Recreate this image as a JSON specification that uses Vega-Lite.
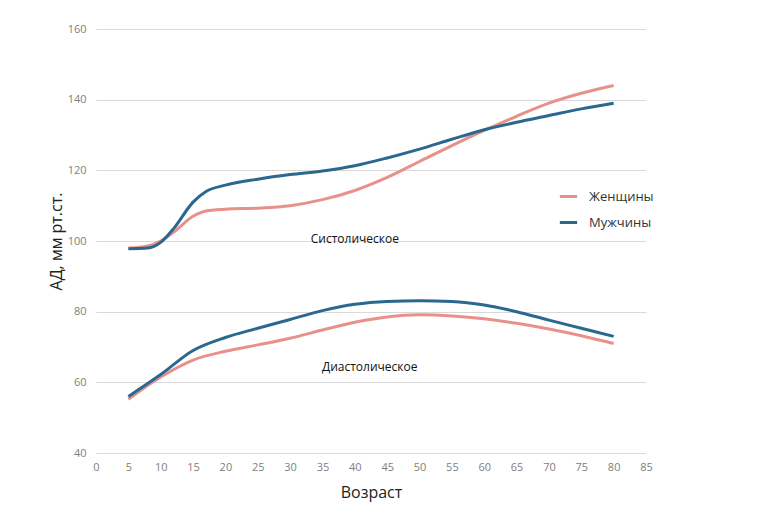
{
  "$schema": "https://vega.github.io/schema/vega-lite/v6.json",
  "width": 550,
  "height": 424,
  "autosize": "none",
  "padding": {"left": 96, "top": 29, "right": 128, "bottom": 74},
  "background": "white",
  "config": {
    "font": "Open Sans",
    "view": {"stroke": null},
    "axis": {"labelColor": "#808080", "labelFontSize": 11, "domain": false, "ticks": false, "titleFontWeight": "normal", "titleColor": "#222", "titleFontSize": 16}
  },
  "datasets": {
    "bp": [
      {"age": 5, "bp": 98, "sex": "Женщины", "type": "sys"},
      {"age": 8, "bp": 98.6, "sex": "Женщины", "type": "sys"},
      {"age": 10, "bp": 100, "sex": "Женщины", "type": "sys"},
      {"age": 12, "bp": 102.5, "sex": "Женщины", "type": "sys"},
      {"age": 15, "bp": 107, "sex": "Женщины", "type": "sys"},
      {"age": 17, "bp": 108.5, "sex": "Женщины", "type": "sys"},
      {"age": 20, "bp": 109, "sex": "Женщины", "type": "sys"},
      {"age": 25, "bp": 109.3, "sex": "Женщины", "type": "sys"},
      {"age": 30, "bp": 110, "sex": "Женщины", "type": "sys"},
      {"age": 35, "bp": 111.7, "sex": "Женщины", "type": "sys"},
      {"age": 40, "bp": 114.3, "sex": "Женщины", "type": "sys"},
      {"age": 45, "bp": 118, "sex": "Женщины", "type": "sys"},
      {"age": 50, "bp": 122.5, "sex": "Женщины", "type": "sys"},
      {"age": 55, "bp": 127, "sex": "Женщины", "type": "sys"},
      {"age": 60, "bp": 131.3, "sex": "Женщины", "type": "sys"},
      {"age": 65, "bp": 135.3, "sex": "Женщины", "type": "sys"},
      {"age": 70, "bp": 139, "sex": "Женщины", "type": "sys"},
      {"age": 75, "bp": 141.8, "sex": "Женщины", "type": "sys"},
      {"age": 80, "bp": 144, "sex": "Женщины", "type": "sys"},
      {"age": 5, "bp": 97.8, "sex": "Мужчины", "type": "sys"},
      {"age": 8, "bp": 98, "sex": "Мужчины", "type": "sys"},
      {"age": 10, "bp": 99.6, "sex": "Мужчины", "type": "sys"},
      {"age": 12, "bp": 103.5, "sex": "Мужчины", "type": "sys"},
      {"age": 15, "bp": 111, "sex": "Мужчины", "type": "sys"},
      {"age": 17, "bp": 114, "sex": "Мужчины", "type": "sys"},
      {"age": 20, "bp": 115.8, "sex": "Мужчины", "type": "sys"},
      {"age": 25, "bp": 117.5, "sex": "Мужчины", "type": "sys"},
      {"age": 30, "bp": 118.8, "sex": "Мужчины", "type": "sys"},
      {"age": 35, "bp": 119.8, "sex": "Мужчины", "type": "sys"},
      {"age": 40, "bp": 121.3, "sex": "Мужчины", "type": "sys"},
      {"age": 45, "bp": 123.5, "sex": "Мужчины", "type": "sys"},
      {"age": 50, "bp": 126, "sex": "Мужчины", "type": "sys"},
      {"age": 55, "bp": 128.8, "sex": "Мужчины", "type": "sys"},
      {"age": 60, "bp": 131.5, "sex": "Мужчины", "type": "sys"},
      {"age": 65, "bp": 133.6, "sex": "Мужчины", "type": "sys"},
      {"age": 70, "bp": 135.5, "sex": "Мужчины", "type": "sys"},
      {"age": 75, "bp": 137.4, "sex": "Мужчины", "type": "sys"},
      {"age": 80, "bp": 139, "sex": "Мужчины", "type": "sys"},
      {"age": 5, "bp": 55.2, "sex": "Женщины", "type": "dia"},
      {"age": 10, "bp": 61.5, "sex": "Женщины", "type": "dia"},
      {"age": 15, "bp": 66.3, "sex": "Женщины", "type": "dia"},
      {"age": 20, "bp": 68.8, "sex": "Женщины", "type": "dia"},
      {"age": 25, "bp": 70.6, "sex": "Женщины", "type": "dia"},
      {"age": 30, "bp": 72.5, "sex": "Женщины", "type": "dia"},
      {"age": 35, "bp": 74.8, "sex": "Женщины", "type": "dia"},
      {"age": 40, "bp": 77, "sex": "Женщины", "type": "dia"},
      {"age": 45, "bp": 78.5, "sex": "Женщины", "type": "dia"},
      {"age": 50, "bp": 79.1, "sex": "Женщины", "type": "dia"},
      {"age": 55, "bp": 78.8, "sex": "Женщины", "type": "dia"},
      {"age": 60, "bp": 78, "sex": "Женщины", "type": "dia"},
      {"age": 65, "bp": 76.7, "sex": "Женщины", "type": "dia"},
      {"age": 70, "bp": 75.1, "sex": "Женщины", "type": "dia"},
      {"age": 75, "bp": 73.2, "sex": "Женщины", "type": "dia"},
      {"age": 80, "bp": 71, "sex": "Женщины", "type": "dia"},
      {"age": 5, "bp": 56, "sex": "Мужчины", "type": "dia"},
      {"age": 10, "bp": 62.2, "sex": "Мужчины", "type": "dia"},
      {"age": 15, "bp": 69, "sex": "Мужчины", "type": "dia"},
      {"age": 20, "bp": 72.7, "sex": "Мужчины", "type": "dia"},
      {"age": 25, "bp": 75.3, "sex": "Мужчины", "type": "dia"},
      {"age": 30, "bp": 77.8, "sex": "Мужчины", "type": "dia"},
      {"age": 35, "bp": 80.3, "sex": "Мужчины", "type": "dia"},
      {"age": 40, "bp": 82.1, "sex": "Мужчины", "type": "dia"},
      {"age": 45, "bp": 82.9, "sex": "Мужчины", "type": "dia"},
      {"age": 50, "bp": 83.1, "sex": "Мужчины", "type": "dia"},
      {"age": 55, "bp": 82.9, "sex": "Мужчины", "type": "dia"},
      {"age": 60, "bp": 81.9, "sex": "Мужчины", "type": "dia"},
      {"age": 65, "bp": 80, "sex": "Мужчины", "type": "dia"},
      {"age": 70, "bp": 77.6, "sex": "Мужчины", "type": "dia"},
      {"age": 75, "bp": 75.3, "sex": "Мужчины", "type": "dia"},
      {"age": 80, "bp": 73, "sex": "Мужчины", "type": "dia"}
    ],
    "labels": [
      {"age": 40, "bp": 100.5, "text": "Систолическое"},
      {"age": 42.3, "bp": 64.4, "text": "Диастолическое"}
    ]
  },
  "encoding": {
    "x": {"field": "age", "type": "quantitative", "scale": {"domain": [0, 85], "nice": false}, "axis": {"values": [0,5,10,15,20,25,30,35,40,45,50,55,60,65,70,75,80,85], "labelOverlap": false, "labelFlush": false, "labelBound": false, "grid": false, "labelPadding": 8, "title": "Возраст", "titlePadding": 12}},
    "y": {"field": "bp", "type": "quantitative", "scale": {"domain": [40, 160], "nice": false, "zero": false}, "axis": {"values": [40, 60, 80, 100, 120, 140, 160], "grid": true, "gridColor": "#d9d9d9", "labelPadding": 10, "title": "АД, мм рт.ст.", "titlePadding": 3}}
  },
  "layer": [
    {
      "data": {"name": "bp"},
      "mark": {"type": "line", "interpolate": "monotone", "strokeWidth": 3},
      "encoding": {
        "detail": {"field": "type"},
        "color": {"field": "sex", "type": "nominal", "scale": {"domain": ["Женщины", "Мужчины"], "range": ["#e8918b", "#2b6890"]},
          "legend": {"title": null, "orient": "none", "legendX": 462, "legendY": 157, "symbolType": "stroke", "symbolSize": 300, "symbolStrokeWidth": 3, "labelFontSize": 13, "labelColor": "#333", "rowPadding": 8, "labelOffset": 10}}
      }
    },
    {
      "data": {"name": "labels"},
      "mark": {"type": "text", "fontSize": 12, "color": "#111", "align": "center", "baseline": "middle"},
      "encoding": {
        "text": {"field": "text"}
      }
    }
  ]
}
